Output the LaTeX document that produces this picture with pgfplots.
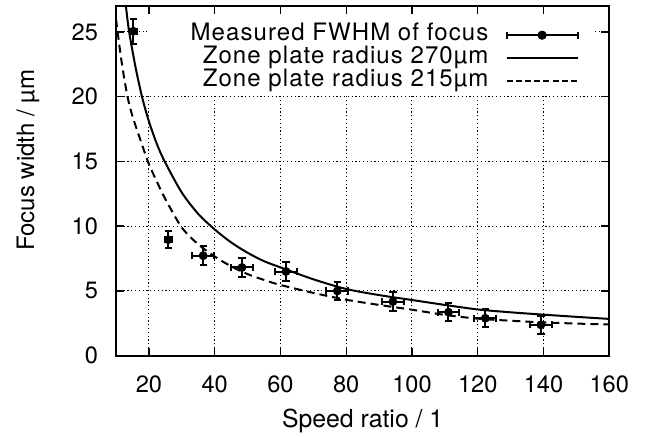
\documentclass[border=0pt]{standalone}
\usepackage{pgfplots}
\pgfplotsset{compat=1.18}
\usepackage{pgfplotstable}
\usepackage{fontspec}
\setmainfont{TeX Gyre Heros}
\newfontfamily\legendfont[LetterSpace=4.5]{TeX Gyre Heros}
\pgfplotstableread{
x y ex ey
15.3 25.05 1.0 0.97
25.9 8.96 1.0 0.65
36.5 7.72 3.3 0.73
48.3 6.81 3.4 0.72
61.7 6.50 3.3 0.71
77.3 5.00 3.3 0.71
94.2 4.18 3.3 0.71
111.1 3.36 3.3 0.71
122.3 2.89 3.3 0.71
139.2 2.38 3.3 0.71
}\measured
\pgfplotstableread{
x y
12.5 27.8
13.0 27.0
14 25.0
16 22.2
18 19.9
20 18.1
22.5 16.3
25 14.9
30 12.6
35 10.95
40 9.75
45 8.75
50 7.95
55 7.3
60 6.82
70 5.9
80 5.15
90 4.68
100 4.3
110 3.92
120 3.57
130 3.35
140 3.17
150 3.0
160 2.84
}\solid
\pgfplotstableread{
x y
10 26.0
11 24.0
12 22.2
13.5 20.0
15 18.5
17.5 16.6
20 14.8
22.5 13.4
25 12.1
30 9.9
35 8.6
40 7.66
45 6.9
50 6.3
55 5.85
60 5.46
70 4.85
80 4.32
90 3.92
100 3.55
110 3.15
120 2.86
130 2.7
140 2.57
150 2.48
160 2.41
}\dashedc
\begin{document}
\fontsize{12bp}{14bp}\selectfont
\begin{tikzpicture}
\path[use as bounding box] (0,0) rectangle (324.5bp,218.5bp);
\begin{axis}[
  at={(58bp,40.65bp)}, anchor=south west,
  scale only axis, width=246.65bp, height=174.85bp,
  xmin=10, xmax=160, ymin=0, ymax=27,
  xtick={20,40,...,160}, ytick={0,5,...,25},
  minor tick num=0,
  tick align=inside, major tick length=4bp,
  tick style={black, line width=0.7bp},
  grid=major, grid style={black, line width=0.5bp, dash pattern=on 0.6bp off 1.3bp},
  axis line style={black, line width=1bp},
  /pgf/number format/assume math mode=true,
  ticklabel style={font=\fontsize{11.8bp}{14bp}\selectfont, inner sep=0pt},
  xticklabel style={anchor=north, yshift=-9.65bp},
  yticklabel style={anchor=east, xshift=-8.85bp},
  xlabel={Speed ratio / 1}, ylabel={Focus width / µm},
  xlabel style={at={(axis description cs:0.5,0)}, anchor=base, yshift=-35.8bp, font=\fontsize{12.4bp}{14bp}\selectfont},
  ylabel style={at={(axis description cs:-0.1662,0.559)}, anchor=base, font=\fontsize{12bp}{14bp}\selectfont},
  legend plot pos=right,
  legend cell align=right,
  legend style={at={(0.9386,0.8514)}, anchor=east, draw=none, fill=none, inner sep=0pt,
    font=\legendfont\fontsize{12bp}{14bp}\selectfont,
    /tikz/column sep=8.65bp, /tikz/row sep=0pt,
    nodes={inner sep=0pt, text height=8.4bp, text depth=3bp}},
]
\fill[white] (rel axis cs:0.063,0.7455) rectangle (rel axis cs:0.967,0.974);
\addplot[black, only marks, mark=*, mark size=2bp,
  error bars/.cd, x dir=both, x explicit, y dir=both, y explicit,
  error bar style={line width=1bp, black},
  error mark options={rotate=90, line width=1bp, mark size=1.8bp, black},
  /pgfplots/legend image code/.code={
    \draw[black, line width=1bp] (0bp,0bp) -- (35.5bp,0bp);
    \draw[black, line width=1bp] (0bp,-1.8bp) -- (0bp,1.8bp);
    \draw[black, line width=1bp] (35.5bp,-1.8bp) -- (35.5bp,1.8bp);
    \fill[black] (17.75bp,0bp) circle (2.1bp);}]
  table[x=x, y=y, x error=ex, y error=ey] {\measured};
\addlegendentry{Measured FWHM of focus}
\addplot[black, line width=1bp, no marks, smooth,
  legend image code/.code={\draw[black, line width=1bp] (0bp,0bp) -- (35.5bp,0bp);}]
  table[x=x, y=y] {\solid};
\addlegendentry{Zone plate radius 270µm}
\addplot[black, line width=1bp, no marks, smooth, dash pattern=on 4bp off 2.5bp,
  legend image code/.code={\draw[black, line width=1bp, dash pattern=on 3bp off 1.6bp] (0bp,0bp) -- (35.5bp,0bp);}]
  table[x=x, y=y] {\dashedc};
\addlegendentry{Zone plate radius 215µm}
\end{axis}
\end{tikzpicture}
\end{document}
